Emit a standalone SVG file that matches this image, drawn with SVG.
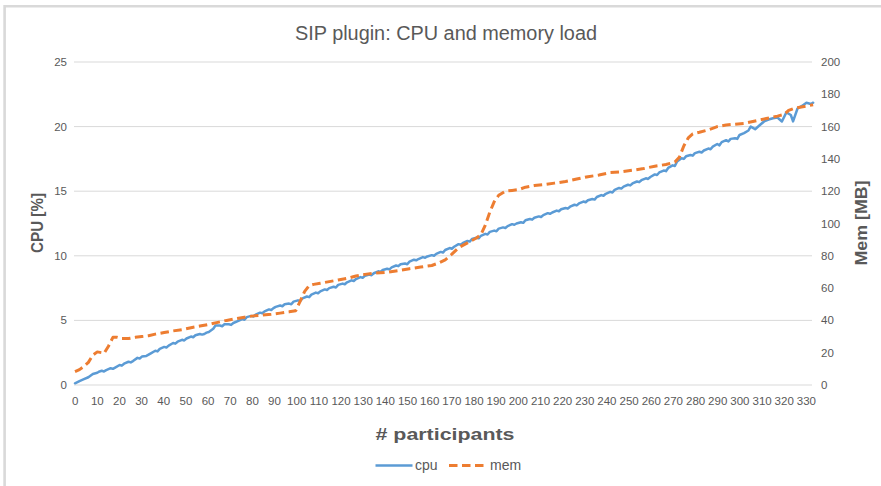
<svg xmlns="http://www.w3.org/2000/svg" width="881" height="486" viewBox="0 0 881 486">
  <style>
    text { font-family: "Liberation Sans", Arial, sans-serif; fill: #595959; }
    .tick { font-size: 11.5px; }
    .ly { text-anchor: end; }
    .ry { text-anchor: start; }
    .tx { text-anchor: middle; }
    .grid line { stroke: #d9d9d9; stroke-width: 1; }
    .axtitle { font-size: 17px; font-weight: bold; text-anchor: middle; }
    .cpu { fill: none; stroke: #5b9bd5; stroke-width: 2.5; stroke-linejoin: round; stroke-linecap: round; }
    .mem { fill: none; stroke: #ed7d31; stroke-width: 3; stroke-dasharray: 8.5 4.5; stroke-linejoin: round; }
  </style>

  <rect x="0" y="0" width="881" height="486" fill="#ffffff"/>
  <!-- chart frame (top and left edges) -->
  <path d="M4.6 486 V6.2 H881" fill="none" stroke="#d9d9d9" stroke-width="2.6"/>

  <text x="446" y="39.5" font-size="19.5" text-anchor="middle" textLength="302" lengthAdjust="spacingAndGlyphs">SIP plugin: CPU and memory load</text>

  <!-- horizontal gridlines -->
  <g class="grid">
    <line x1="74" y1="62" x2="812" y2="62"/>
    <line x1="74" y1="126.6" x2="812" y2="126.6"/>
    <line x1="74" y1="191.2" x2="812" y2="191.2"/>
    <line x1="74" y1="255.8" x2="812" y2="255.8"/>
    <line x1="74" y1="320.4" x2="812" y2="320.4"/>
    <line x1="74" y1="385" x2="812" y2="385"/>
  </g>

  <!-- left axis: CPU % -->
  <g id="axis-cpu" class="tick ly">
    <text x="67" y="66">25</text>
    <text x="67" y="130.6">20</text>
    <text x="67" y="195.2">15</text>
    <text x="67" y="259.8">10</text>
    <text x="67" y="324.4">5</text>
    <text x="67" y="389">0</text>
  </g>
  <text class="axtitle" transform="translate(42.5 223) rotate(-90)" textLength="60" lengthAdjust="spacingAndGlyphs">CPU [%]</text>

  <!-- right axis: memory MB -->
  <g id="axis-mem" class="tick ry">
    <text x="821" y="66">200</text>
    <text x="821" y="98.3">180</text>
    <text x="821" y="130.6">160</text>
    <text x="821" y="162.9">140</text>
    <text x="821" y="195.2">120</text>
    <text x="821" y="227.5">100</text>
    <text x="821" y="259.8">80</text>
    <text x="821" y="292.1">60</text>
    <text x="821" y="324.4">40</text>
    <text x="821" y="356.7">20</text>
    <text x="821" y="389">0</text>
  </g>
  <text class="axtitle" transform="translate(866.5 223) rotate(-90)" textLength="85" lengthAdjust="spacingAndGlyphs">Mem [MB]</text>

  <!-- category axis -->
  <g id="axis-x" class="tick tx">
    <text x="75.1" y="405">0</text>
    <text x="97.3" y="405">10</text>
    <text x="119.4" y="405">20</text>
    <text x="141.6" y="405">30</text>
    <text x="163.7" y="405">40</text>
    <text x="185.9" y="405">50</text>
    <text x="208.1" y="405">60</text>
    <text x="230.2" y="405">70</text>
    <text x="252.4" y="405">80</text>
    <text x="274.5" y="405">90</text>
    <text x="296.7" y="405">100</text>
    <text x="318.9" y="405">110</text>
    <text x="341.0" y="405">120</text>
    <text x="363.2" y="405">130</text>
    <text x="385.3" y="405">140</text>
    <text x="407.5" y="405">150</text>
    <text x="429.7" y="405">160</text>
    <text x="451.8" y="405">170</text>
    <text x="474.0" y="405">180</text>
    <text x="496.1" y="405">190</text>
    <text x="518.3" y="405">200</text>
    <text x="540.5" y="405">210</text>
    <text x="562.6" y="405">220</text>
    <text x="584.8" y="405">230</text>
    <text x="606.9" y="405">240</text>
    <text x="629.1" y="405">250</text>
    <text x="651.3" y="405">260</text>
    <text x="673.4" y="405">270</text>
    <text x="695.6" y="405">280</text>
    <text x="717.7" y="405">290</text>
    <text x="739.9" y="405">300</text>
    <text x="762.1" y="405">310</text>
    <text x="784.2" y="405">320</text>
    <text x="806.4" y="405">330</text>
  </g>
  <text class="axtitle" x="445" y="439.5" textLength="139" lengthAdjust="spacingAndGlyphs"># participants</text>

  <!-- data series, drawn in data units (category, value) -->
  <g id="connectors">
    <g id="series-cpu" transform="translate(75 385) scale(2.23 -12.92)">
      <polyline class="cpu" vector-effect="non-scaling-stroke" points="0,0.13 2,0.3 4,0.45 6,0.6 8,0.85 10,0.95 11,1.05 12,1.1 13,1.05 14,1.15 16,1.3 17,1.25 18,1.35 20,1.55 21,1.5 22,1.65 24,1.8 25,1.75 26,1.85 28,2.1 29,2.05 30,2.2 32,2.25 34,2.45 36,2.65 37,2.6 38,2.8 40,2.95 41,2.9 42,3.05 44,3.25 45,3.2 46,3.35 48,3.5 49,3.45 50,3.6 52,3.75 53,3.7 54,3.85 56,3.95 57,3.9 58,3.95 59,4.05 60,4.1 62,4.35 63,4.6 65,4.6 66,4.55 67,4.7 69,4.7 70,4.65 71,4.8 73,4.95 75,5.1 76,5.05 77,5.25 79,5.35 80,5.3 81,5.45 83,5.6 84,5.55 85,5.7 87,5.85 88,5.8 89,5.95 90,6.05 92,6.15 93,6.1 94,6.25 96,6.3 97,6.25 98,6.45 100,6.55 101,6.5 102,6.7 104,6.85 105,6.8 106,7 108,7.15 109,7.1 110,7.25 112,7.4 113,7.35 114,7.5 116,7.6 117,7.55 118,7.75 120,7.85 121,7.8 122,7.95 124,8.1 125,8.05 126,8.2 128,8.35 129,8.3 130,8.45 132,8.55 133,8.5 134,8.65 136,8.8 137,8.75 138,8.9 140,9 141,8.95 142,9.1 144,9.25 145,9.2 146,9.35 148,9.4 149,9.35 150,9.55 152,9.7 153,9.65 154,9.75 156,9.9 157,9.85 158,9.95 160,10.05 161,10 162,10.15 164,10.3 165,10.25 166,10.45 168,10.6 169,10.55 170,10.7 172,10.9 173,10.85 174,11 176,11.15 177,11.1 178,11.3 180,11.4 181,11.35 182,11.55 184,11.7 185,11.65 186,11.85 188,11.95 189,11.9 190,12.1 192,12.2 193,12.15 194,12.3 196,12.45 197,12.4 198,12.5 200,12.6 201,12.55 202,12.75 204,12.85 205,12.8 206,12.95 208,13.05 209,13 210,13.15 212,13.3 213,13.25 214,13.35 216,13.5 217,13.45 218,13.6 220,13.7 221,13.65 222,13.8 224,13.95 225,13.9 226,14.05 228,14.2 229,14.15 230,14.3 232,14.4 233,14.35 234,14.55 236,14.7 237,14.65 238,14.8 240,14.95 241,14.9 242,15.1 244,15.25 245,15.2 246,15.35 248,15.5 249,15.45 250,15.6 252,15.75 253,15.7 254,15.85 256,16 257,15.95 258,16.1 260,16.3 261,16.25 262,16.45 264,16.6 265,16.55 266,16.8 268,17 269,16.95 270,17.3 272,17.55 273,17.5 274,17.7 276,17.8 277,17.75 278,17.95 280,18.05 281,18 282,18.15 284,18.3 285,18.25 286,18.45 288,18.65 289,18.55 290,18.8 292,18.95 293,18.85 294,19.05 296,19.1 297,19.05 298,19.35 300,19.5 302,19.7 303,20 305,19.8 307,20.1 309,20.4 311,20.55 313,20.65 315,20.7 317,20.4 319,21.1 321,20.9 322,20.4 324,21.4 326,21.6 328,21.85 330,21.75 331,21.85"/>
    </g>
    <g id="series-mem" transform="translate(75 385) scale(2.23 -1.615)">
      <polyline class="mem" vector-effect="non-scaling-stroke" points="0,8.3 2,9.5 4,11.5 6,14 8,18.5 10,20.5 12,20 13,19.5 15,24 17,29.5 19,29.5 21,28.8 24,28.8 27,29.5 30,30 33,30.5 36,31.5 40,32.5 44,33.5 48,34.3 52,35.5 56,36.5 60,37.5 64,38.8 68,40 72,41 76,42 80,42.8 84,43.3 88,43.8 92,44.5 96,45.3 99,46 101,52 103,58 105,61.5 107,62.3 110,63 114,64 118,65 122,66 126,67.5 130,68.5 135,69.3 140,69.8 145,70.8 150,72 155,73 160,74 163,75.5 166,77.5 169,81 172,85 176,88 180,91 182,93 184,99 186,107 188,113.5 190,117.5 193,120 196,120.5 199,121 202,122.5 206,123.5 210,124 215,125 220,126 225,127.5 230,129 235,130 240,131.5 245,132 250,133 255,134 260,135.5 265,136.5 269,138 271,141 273,148 275,153 277,155.5 280,156.5 284,158 288,160 292,161 296,161.5 300,162 305,163.5 310,165 315,166.5 318,167.5 320,170 323,171.5 327,172.5 331,173.5"/>
    </g>
  </g>

  <!-- legend -->
  <g id="legend">
    <line x1="375.5" y1="465.5" x2="412.5" y2="465.5" stroke="#5b9bd5" stroke-width="2.5"/>
    <text x="415" y="470" font-size="14">cpu</text>
    <line x1="449" y1="465.5" x2="486" y2="465.5" stroke="#ed7d31" stroke-width="3" stroke-dasharray="8.5 4.5"/>
    <text x="490" y="470" font-size="14">mem</text>
  </g>
</svg>
